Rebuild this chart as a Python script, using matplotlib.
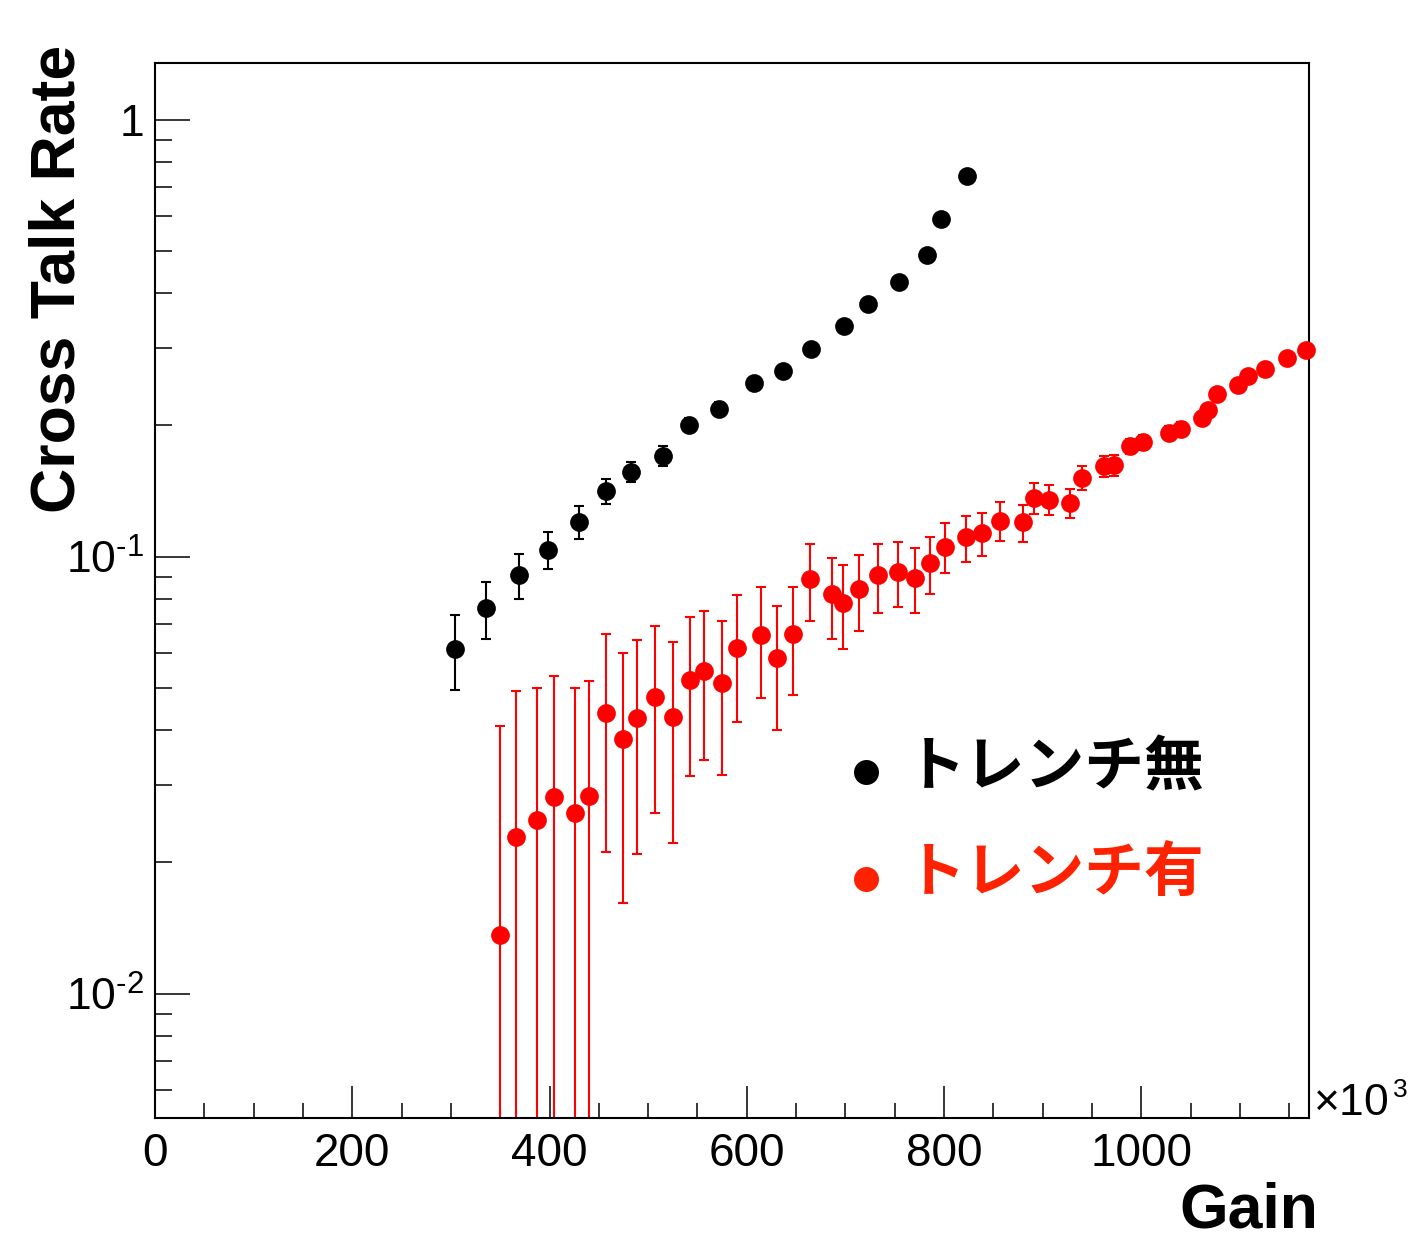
import matplotlib
matplotlib.use('Agg')
import matplotlib.pyplot as plt
from matplotlib.ticker import FixedLocator, FixedFormatter, MultipleLocator, LogLocator, NullFormatter
from matplotlib.lines import Line2D

plt.rcParams['font.family'] = ['Liberation Sans', 'Noto Sans CJK JP', 'DejaVu Sans']
plt.rcParams['mathtext.fontset'] = 'custom'
plt.rcParams['mathtext.rm'] = 'Liberation Sans'
plt.rcParams['mathtext.it'] = 'Liberation Sans:italic'
plt.rcParams['mathtext.bf'] = 'Liberation Sans:bold'

# ---- data (Gain in units of 10^3) ----
gain_no = [304.6, 335.4, 368.7, 398.4, 429.9, 457.1, 483.1, 514.6, 541.7, 571.4,
           606.9, 636.6, 665.6, 698.1, 723.2, 753.9, 782.2, 797.4, 823.4]
rate_no = [0.0615, 0.0761, 0.0908, 0.1036, 0.1201, 0.1414, 0.1565, 0.1699, 0.2001, 0.2181,
           0.2489, 0.2658, 0.2988, 0.3364, 0.3789, 0.4252, 0.4900, 0.5913, 0.7414]
err_no = [0.0121, 0.0113, 0.0108, 0.0102, 0.0107, 0.0092, 0.0083, 0.0087, 0.0078, 0.0076,
          0.0075, 0.0073, 0.0072, 0.0070, 0.0068, 0.0066, 0.0064, 0.0062, 0.0060]

gain_yes = [350.2, 365.7, 387.3, 405.0, 425.9, 440.4, 457.3, 474.5, 489.1, 506.9,
            524.9, 542.8, 556.6, 575.3, 589.8, 614.1, 631.0, 646.8, 663.8, 685.9,
            697.5, 714.1, 732.6, 753.2, 770.6, 786.1, 801.2, 822.4, 838.9, 856.7,
            879.6, 891.0, 906.8, 928.0, 940.1, 962.3, 972.0, 988.1, 1001.6, 1028.5,
            1039.8, 1061.7, 1068.1, 1076.5, 1097.7, 1108.2, 1125.7, 1147.9, 1167.4]
rate_yes = [0.0136, 0.0228, 0.0250, 0.0282, 0.0259, 0.0283, 0.0438, 0.0382, 0.0426, 0.0477,
            0.0430, 0.0522, 0.0546, 0.0514, 0.0617, 0.0662, 0.0586, 0.0666, 0.0890, 0.0819,
            0.0784, 0.0842, 0.0905, 0.0921, 0.0894, 0.0967, 0.1054, 0.1107, 0.1131, 0.1209,
            0.1197, 0.1363, 0.1349, 0.1327, 0.1515, 0.1610, 0.1619, 0.1786, 0.1824, 0.1916,
            0.1957, 0.2071, 0.2168, 0.2350, 0.2464, 0.2584, 0.2686, 0.2851, 0.2976]
err_yes = [0.0273, 0.0264, 0.0250, 0.0251, 0.0242, 0.0236, 0.0227, 0.0221, 0.0217, 0.0218,
           0.0209, 0.0207, 0.0203, 0.0198, 0.0198, 0.0188, 0.0186, 0.0185, 0.0178, 0.0173,
           0.0170, 0.0166, 0.0162, 0.0156, 0.0150, 0.0144, 0.0138, 0.0134, 0.0126, 0.0121,
           0.0117, 0.0111, 0.0107, 0.0101, 0.0097, 0.0089, 0.0090, 0.0070, 0.0070, 0.0070,
           0.0070, 0.0070, 0.0070, 0.0070, 0.0070, 0.0070, 0.0070, 0.0070, 0.0070]

series_labels = ['トレンチ無', 'トレンチ有']
x_ticks = [0, 200, 400, 600, 800, 1000]
x_tick_labels = ['0', '200', '400', '600', '800', '1000']
y_ticks = [0.01, 0.1, 1.0]
y_tick_labels = [r'$10^{\text{-}2}$', r'$10^{\text{-}1}$', '1']
x_title = 'Gain'
y_title = 'Cross Talk Rate'

W, H = 1415, 1241
def fx(px):
    return px / W
def fy(py):
    return 1 - py / H

fig = plt.figure(figsize=(W / 100, H / 100), dpi=100)
ax = fig.add_axes([fx(155), fy(1118), (1309 - 155) / W, (1118 - 63) / H])
ax.set_yscale('log')
ax.set_xlim(0, 1170)
ax.set_ylim(0.00519, 1.347)

ax.errorbar(gain_no, rate_no, yerr=err_no, fmt='none', ecolor='black',
            elinewidth=1.5, capsize=3.6, capthick=1.5, zorder=2)
ax.plot(gain_no, rate_no, 'o', color='black', ms=13.5, mew=0, clip_on=False, zorder=3)
ax.errorbar(gain_yes, rate_yes, yerr=err_yes, fmt='none', ecolor='#ff0000',
            elinewidth=1.5, capsize=3.6, capthick=1.5, zorder=2)
ax.plot(gain_yes, rate_yes, 'o', color='#ff0000', ms=13.5, mew=0, clip_on=False, zorder=3)

for s in ax.spines.values():
    s.set_linewidth(1.5)

ax.xaxis.set_major_locator(FixedLocator(x_ticks))
ax.xaxis.set_major_formatter(FixedFormatter(x_tick_labels))
ax.xaxis.set_minor_locator(MultipleLocator(50))
ax.yaxis.set_major_locator(FixedLocator(y_ticks))
ax.yaxis.set_major_formatter(FixedFormatter(y_tick_labels))
ax.yaxis.set_minor_locator(LogLocator(base=10, subs=range(2, 10)))
ax.yaxis.set_minor_formatter(NullFormatter())

ax.tick_params(which='both', direction='in', top=False, right=False, width=1.1)
ax.tick_params(axis='x', which='major', length=22.7, pad=10, labelsize=33)
ax.tick_params(axis='x', which='minor', length=10.8)
ax.tick_params(axis='y', which='major', length=25, pad=8, labelsize=32)
ax.tick_params(axis='y', which='minor', length=12.2)

# axis titles
fig.text(fx(1318), fy(1227), x_title, ha='right', va='baseline', fontsize=45, fontweight='bold')
fig.text(fx(75), fy(45), y_title, rotation=90, rotation_mode='anchor', ha='right',
         va='baseline', fontsize=45, fontweight='bold')

# x exponent
fig.text(fx(1313), fy(1115), r'$\times$10', ha='left', va='baseline', fontsize=32)
fig.text(fx(1393), fy(1097), '3', ha='left', va='baseline', fontsize=19)

# legend
leg_colors = ['black', '#ff2200']
leg_y = [772, 879]
leg_ty = [768, 875]
for lab, c, my, ty in zip(series_labels, leg_colors, leg_y, leg_ty):
    fig.add_artist(Line2D([fx(866)], [fy(my)], marker='o', ms=18, mew=0, color=c,
                          transform=fig.transFigure))
    fig.text(fx(906), fy(ty), lab, ha='left', va='center', fontsize=43,
             fontweight='bold', color=c, family=['Noto Sans CJK JP', 'DejaVu Sans'])

fig.savefig('out.png', dpi=100)
